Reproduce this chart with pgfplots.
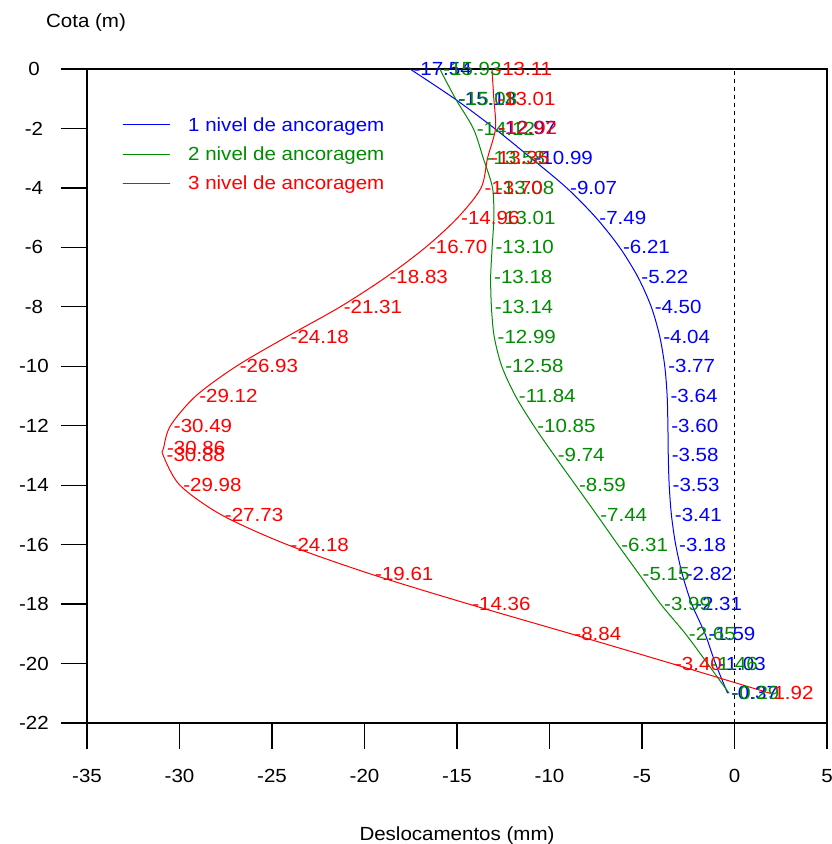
\documentclass[border=0pt]{standalone}
\usepackage{pgfplots}
\pgfplotsset{compat=1.18}
\usepackage{pgfplotstable}
\usepackage{fontspec}
\setmainfont{Liberation Sans}[FakeStretch=1.08]
\definecolor{rblue}{RGB}{0,0,255}
\definecolor{rgreen}{RGB}{0,140,0}
\definecolor{rred}{RGB}{255,0,0}

\pgfplotstableread{
d x
0 -17.54
-1 -15.13
-2 -12.97
-3 -10.99
-4 -9.07
-5 -7.49
-6 -6.21
-7 -5.22
-8 -4.50
-9 -4.04
-10 -3.77
-11 -3.64
-12 -3.60
-13 -3.58
-14 -3.53
-15 -3.41
-16 -3.18
-17 -2.82
-18 -2.31
-19 -1.59
-20 -1.03
-21 -0.37
}\blue

\pgfplotstableread{
d x
0 -15.93
-1 -15.08
-2 -14.12
-3 -13.58
-4 -13.08
-5 -13.01
-6 -13.10
-7 -13.18
-8 -13.14
-9 -12.99
-10 -12.58
-11 -11.84
-12 -10.85
-13 -9.74
-14 -8.59
-15 -7.44
-16 -6.31
-17 -5.15
-18 -3.99
-19 -2.65
-20 -1.46
-21 -0.29
}\green

\pgfplotstableread{
d x
0 -13.11
-1 -13.01
-2 -12.92
-3 -13.35
-4 -13.70
-5 -14.96
-6 -16.70
-7 -18.83
-8 -21.31
-9 -24.18
-10 -26.93
-11 -29.12
-12 -30.49
-12.75 -30.86
-13 -30.88
-14 -29.98
-15 -27.73
-16 -24.18
-17 -19.61
-18 -14.36
-19 -8.84
-20 -3.40
-21 1.92
}\red

\begin{document}
\begin{tikzpicture}
\useasboundingbox (-87bp,-121bp) rectangle (745bp,723bp);
\begin{axis}[
  at={(0,0)}, anchor=south west,
  scale only axis, width=740bp, height=654bp,
  xmin=-35, xmax=5, ymin=-22, ymax=0,
  xtick={-35,-30,...,5}, ytick={-22,-20,...,0},
  xtick pos=bottom, ytick pos=left,
  tick align=outside, major tick length=26bp,
  tick style={black, line width=1.2bp},
  axis line style={line width=1.2bp},
  font=\fontsize{19bp}{22bp}\selectfont,
  /pgf/number format/assume math mode=true,
  xticklabel style={anchor=center, yshift=-27bp},
  yticklabel style={anchor=center, xshift=-27bp},
  clip=false,
  legend style={draw=none, fill=none, at={(axis cs:-33.27,-1.55)}, anchor=north west,
    font=\fontsize{19bp}{22bp}\selectfont, row sep=14bp, column sep=18bp,
    nodes={inner sep=0bp}},
  legend cell align=left,
  legend image code/.code={\draw[#1, line width=1bp] (0bp,0bp) -- (47bp,0bp);},
  nodes near coords={\pgfmathprintnumber[fixed,fixed zerofill,precision=2,assume math mode=true]{\pgfplotspointmeta}},
  point meta=x,
  every node near coord/.append style={anchor=west, inner sep=0bp, xshift=3bp, font=\fontsize{19bp}{22bp}\selectfont},
]
\addlegendimage{draw=rblue}
\addlegendentry{\textcolor{rblue}{1 nivel de ancoragem}}
\addlegendimage{draw=rgreen}
\addlegendentry{\textcolor{rgreen}{2 nivel de ancoragem}}
\addlegendimage{draw=rred}
\addlegendentry{\textcolor{rred}{3 nivel de ancoragem}}
\addplot[rblue, line width=1bp, smooth, forget plot, every node near coord/.append style={text=rblue}] table[x=x, y=d] {\blue};
\addplot[rgreen, line width=1bp, smooth, forget plot, every node near coord/.append style={text=rgreen}] table[x=x, y=d] {\green};
\addplot[rred, line width=1bp, smooth, forget plot, every node near coord/.append style={text=rred}] table[x=x, y=d] {\red};
\addplot[black, line width=1.2bp, dash pattern=on 4bp off 4bp, forget plot, nodes near coords={}] coordinates {(0,-22) (0,0)};
\end{axis}
\node[font=\fontsize{19bp}{22bp}\selectfont] at (370bp,-113bp) {Deslocamentos (mm)};
\node[font=\fontsize{19bp}{22bp}\selectfont] at (-1bp,700bp) {Cota (m)};
\end{tikzpicture}
\end{document}
